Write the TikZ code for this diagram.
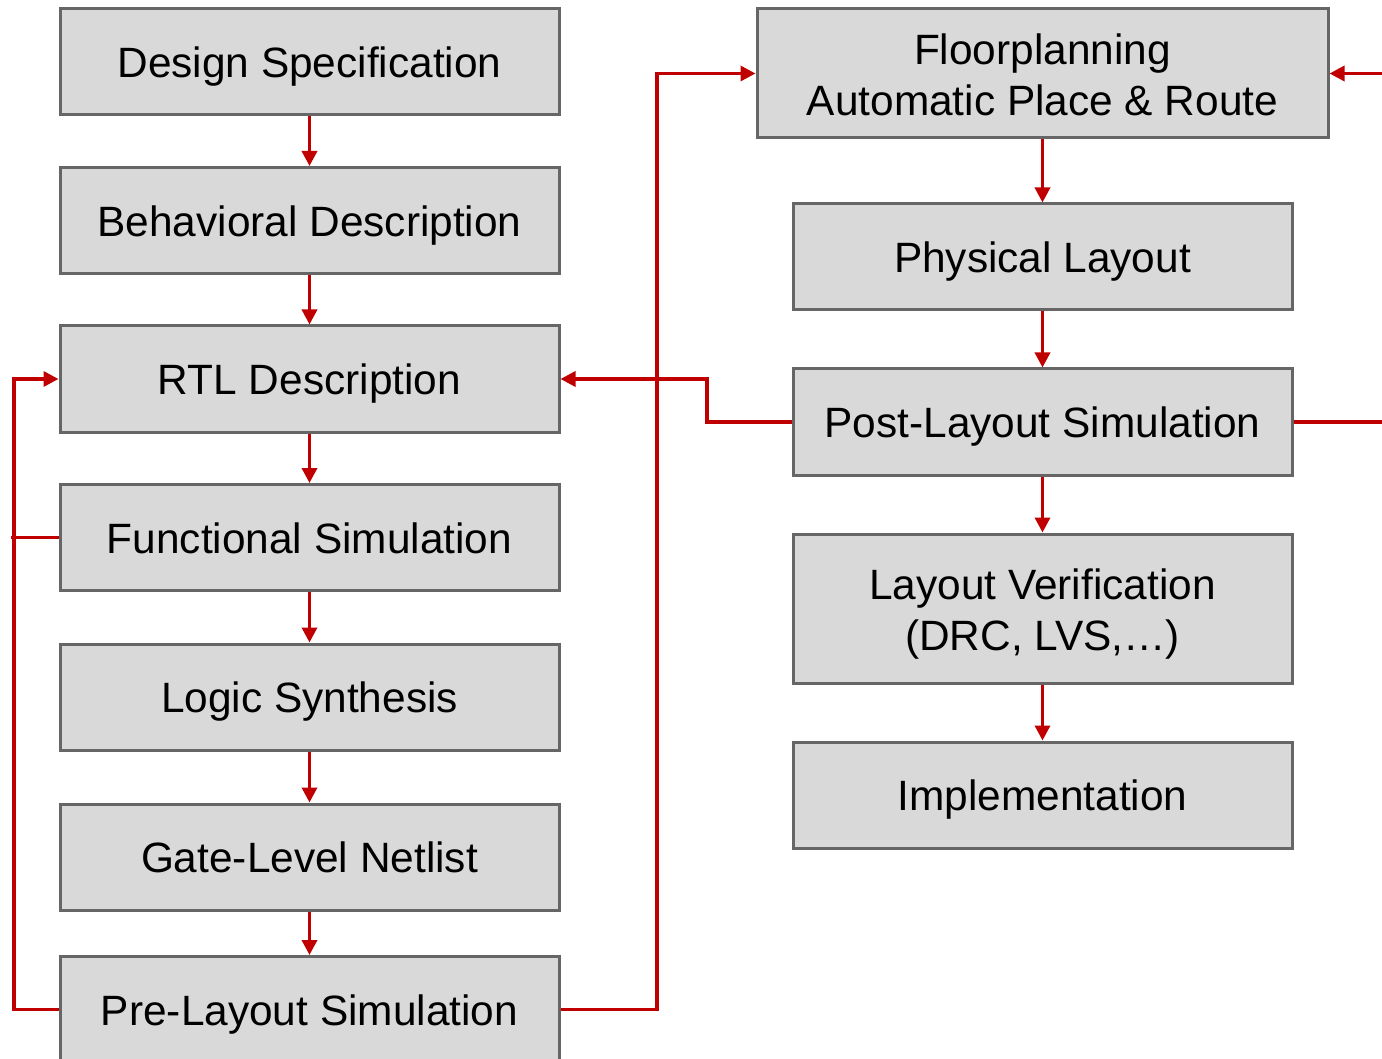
\documentclass[tikz,border=0pt]{standalone}
\usepackage{fontspec}
\setmainfont{Liberation Sans}
\usetikzlibrary{arrows.meta}
\definecolor{boxfill}{HTML}{D9D9D9}
\definecolor{boxline}{HTML}{666666}
\definecolor{flowred}{HTML}{C00000}
% struts that give every label the same ascent and descent
\newcommand\ascstrut{\rule{0pt}{40pt}}
\newcommand\ascstrutwide{\rule{0pt}{92pt}}
\newcommand\dscstrut{\rule[-8.9pt]{0pt}{8.9pt}}
\begin{document}
\begin{tikzpicture}[x=1pt,y=-1pt,
  stage/.style={draw=boxline, line width=3pt, fill=boxfill,
    minimum width=499pt, minimum height=106pt, inner sep=0pt,
    align=center, font=\fontsize{42.4}{51}\selectfont,
    execute at begin node=\ascstrut, execute at end node=\dscstrut},
  twoline/.style={execute at begin node=\ascstrutwide},
  link/.style={draw=flowred, line width=3.4pt},
  flow/.style={link, -{Triangle[length=15pt,width=15pt]}}]
\useasboundingbox (0,0) rectangle (1382,1059);
\clip (0,0) rectangle (1382,1059);

% left column: front-end flow
\node[stage] (spec) at (309.5,62)    {Design Specification};
\node[stage] (beh)  at (309.5,220.5) {Behavioral Description};
\node[stage] (rtl)  at (309.5,379)   {RTL Description};
\node[stage] (fun)  at (309.5,537.5) {Functional Simulation};
\node[stage] (syn)  at (309.5,697)   {Logic Synthesis};
\node[stage] (gate) at (309.5,857)   {Gate-Level Netlist};
\node[stage] (pre)  at (309.5,1009.5){Pre-Layout Simulation};

% right column: back-end flow
\node[stage, twoline, minimum width=571pt, minimum height=129pt] (fp) at (1042.5,73.5)
  {Floorplanning\\Automatic Place \& Route};
\node[stage] (phys) at (1042.5,257) {Physical Layout};
\node[stage] (post) at (1042.5,422) {Post-Layout Simulation};
\node[stage, twoline, minimum height=149pt] (ver) at (1042.5,608.5)
  {Layout Verification\\(DRC, LVS,…)};
\node[stage] (impl) at (1042.5,795) {Implementation};

% main chains
\draw[flow] (spec) -- (beh);
\draw[flow] (beh)  -- (rtl);
\draw[flow] (rtl)  -- (fun);
\draw[flow] (fun)  -- (syn);
\draw[flow] (syn)  -- (gate);
\draw[flow] (gate) -- (pre);
\draw[flow] (fp)   -- (phys);
\draw[flow] (phys) -- (post);
\draw[flow] (post) -- (ver);
\draw[flow] (ver)  -- (impl);

% feedback loops
\coordinate (funstub) at (11,537.5);
\draw[link] (fun.west) -- (funstub);
\draw[flow] (pre.west) -- (14,1009.5) |- (rtl.west);
\draw[flow] (pre.east) -- (657,1009.5) |- (fp.west);
\draw[flow] (post.west) -- (707,422) |- (rtl.east);

% loop leaving on the right and re-entering the floorplanning stage
\coordinate (rout) at (1400,422);
\coordinate (rin)  at (1400,73.5);
\draw[link] (post.east) -- (rout);
\draw[flow] (rin) -- (fp.east);
\end{tikzpicture}
\end{document}
